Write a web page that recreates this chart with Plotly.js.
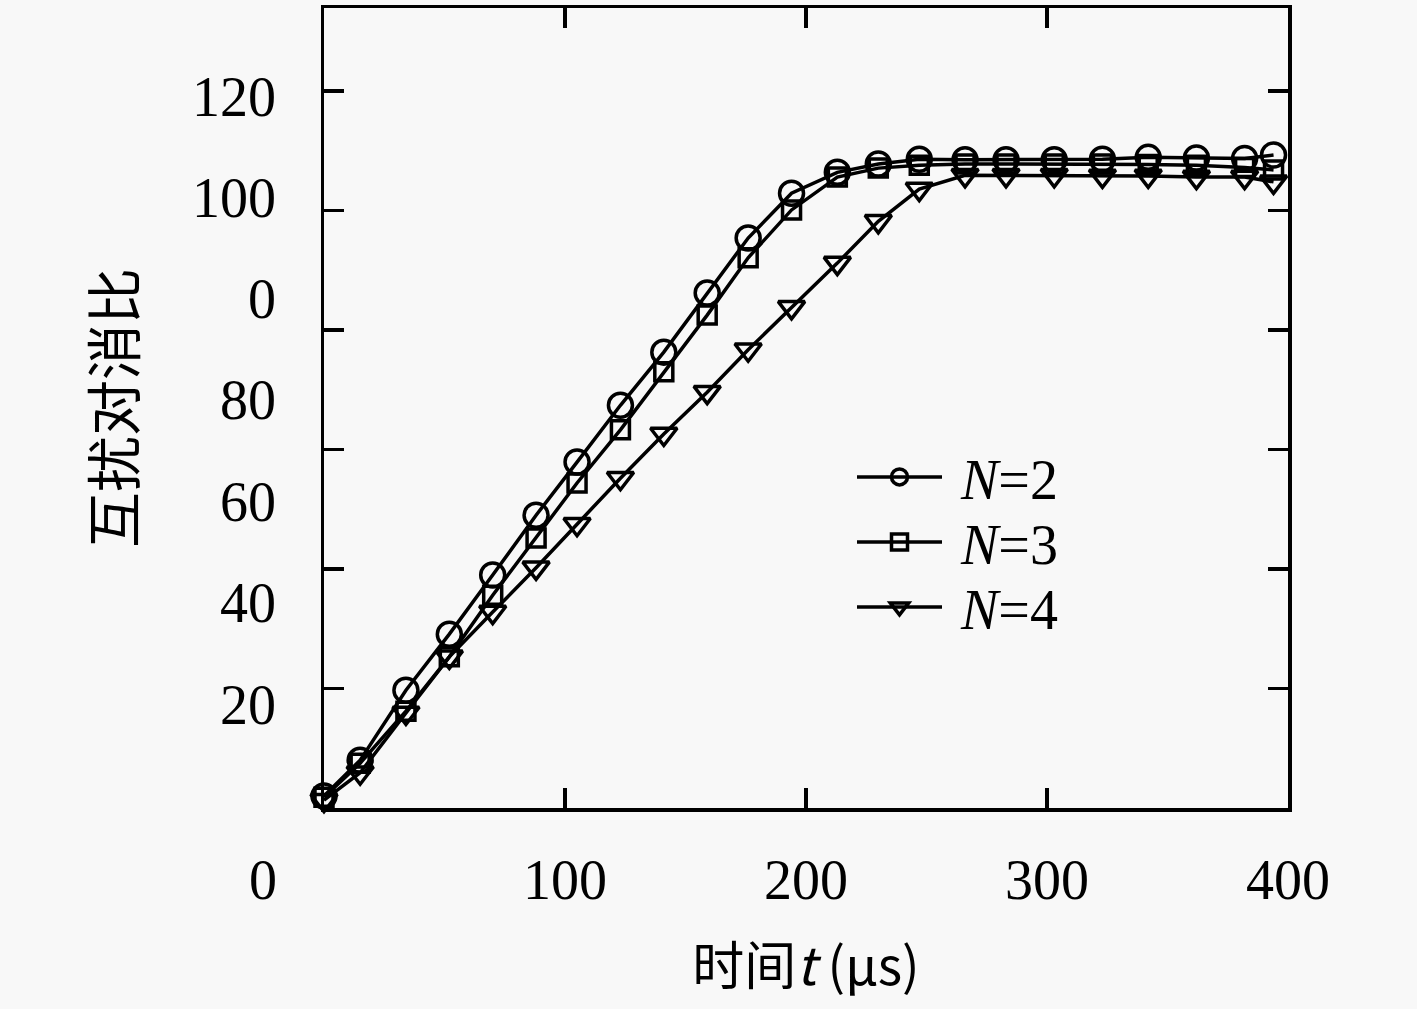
<!DOCTYPE html>
<html>
<head>
<meta charset="utf-8">
<script src="https://cdn.plot.ly/plotly-3.0.1.min.js"></script>
<style>html,body{margin:0;padding:0;background:#f8f8f8;}</style>
</head>
<body>
<div id="chart" style="width:1417px;height:1009px;"></div>
<script>
// time (µs)
const time = [0, 15, 34, 52, 70, 88, 105, 123, 141, 159, 176, 194, 213, 230, 247, 266, 283, 303, 323, 342, 362, 382, 394];
// cancellation ratio per series
const seriesN2 = [2.0, 8.0, 19.7, 29.1, 39.0, 49.0, 57.9, 67.4, 76.3, 86.2, 95.4, 102.9, 106.4, 107.8, 108.6, 108.5, 108.5, 108.5, 108.6, 108.9, 108.8, 108.7, 109.3];
const seriesN3 = [1.8, 7.5, 16.2, 25.3, 35.6, 45.2, 54.4, 63.3, 73.0, 82.5, 92.1, 100.1, 105.6, 107.1, 107.6, 107.8, 107.8, 107.8, 107.8, 107.7, 107.6, 107.2, 106.8];
const seriesN4 = [1.3, 5.9, 15.9, 25.3, 32.8, 40.2, 47.5, 55.2, 62.6, 69.6, 76.7, 83.8, 91.2, 98.2, 103.6, 105.9, 105.9, 105.9, 105.8, 105.8, 105.6, 105.6, 104.8];
const seriesNames = ['<i>N</i>=2', '<i>N</i>=3', '<i>N</i>=4'];
// tick labels as printed in the figure
const yTickLabels = ['120', '100', '0', '80', '60', '40', '20'];
const yTickVals = [20, 40, 60, 80, 100, 120];
const xTickVals = [100, 200, 300, 400];
const xTickText = ['100', '200', '300', '400'];
const xZeroLabel = '0';

const serif = 'Liberation Serif, Times New Roman, serif';
const cjk = 'Noto Sans CJK SC, sans-serif';
const black = '#000000';

function mk(y, name, symbol, size, legendId) {
  return {
    x: time, y: y, name: '\u00a0' + name, type: 'scatter', mode: 'lines+markers',
    cliponaxis: false, legend: legendId,
    line: {color: black, width: 3.5},
    marker: {symbol: symbol, size: size, color: black, line: {color: black, width: 3.5}}
  };
}

const data = [
  mk(seriesN2, seriesNames[0], 'circle-open', 24, 'legend'),
  mk(seriesN3, seriesNames[1], 'square-open', 18, 'legend2'),
  mk(seriesN4, seriesNames[2], 'triangle-down-open', 23, 'legend3')
];

// y tick label positions (figure prints them out of step with the ticks)
const yLabelPix = [97, 198, 299, 400, 502, 603, 705];
const annotations = yTickLabels.map((t, i) => ({
  text: t, xref: 'paper', yref: 'paper',
  x: (278 - 324) / 964, y: (808 - yLabelPix[i]) / 800,
  xanchor: 'right', yanchor: 'middle', showarrow: false,
  font: {family: serif, size: 56, color: black}
}));
annotations.push({
  text: xZeroLabel, xref: 'paper', yref: 'paper',
  x: (263 - 324) / 964, y: (808 - 880) / 800,
  xanchor: 'center', yanchor: 'middle', showarrow: false,
  font: {family: serif, size: 56, color: black}
});

function leg(rowPix) {
  return {
    x: (852 - 324) / 964, y: (808 - rowPix) / 800, xanchor: 'left', yanchor: 'middle',
    bgcolor: 'rgba(0,0,0,0)', borderwidth: 0,
    font: {family: serif, size: 56, color: black},
    itemwidth: 85
  };
}

const layout = {
  width: 1417, height: 1009,
  margin: {l: 324, r: 129, t: 8, b: 201},
  paper_bgcolor: '#f8f8f8', plot_bgcolor: '#f8f8f8',
  showlegend: true,
  legend: leg(477),
  legend2: leg(542),
  legend3: leg(607),
  xaxis: {
    range: [0, 400], autorange: false,
    showline: true, linecolor: black, linewidth: 3.5, mirror: 'ticks',
    showgrid: false, zeroline: false,
    tickmode: 'array', tickvals: xTickVals, ticktext: xTickText,
    ticks: 'inside', ticklen: 20, tickwidth: 3.5, tickcolor: black,
    ticklabelstandoff: 20,
    tickfont: {family: serif, size: 56, color: black},
    title: {text: '时间<i>t</i> (μs)', standoff: 40, font: {family: cjk, size: 52, color: black}}
  },
  yaxis: {
    range: [0, 133.9], autorange: false,
    showline: true, linecolor: black, linewidth: 3.5, mirror: 'ticks',
    showgrid: false, zeroline: false,
    tickmode: 'array', tickvals: yTickVals,
    ticks: 'inside', ticklen: 20, tickwidth: 3.5, tickcolor: black,
    showticklabels: false,
    title: {text: '互扰对消比', standoff: 168, font: {family: cjk, size: 56, color: black}}
  },
  annotations: annotations
};

Plotly.newPlot('chart', data, layout, {displayModeBar: false, staticPlot: true});
</script>
</body>
</html>
